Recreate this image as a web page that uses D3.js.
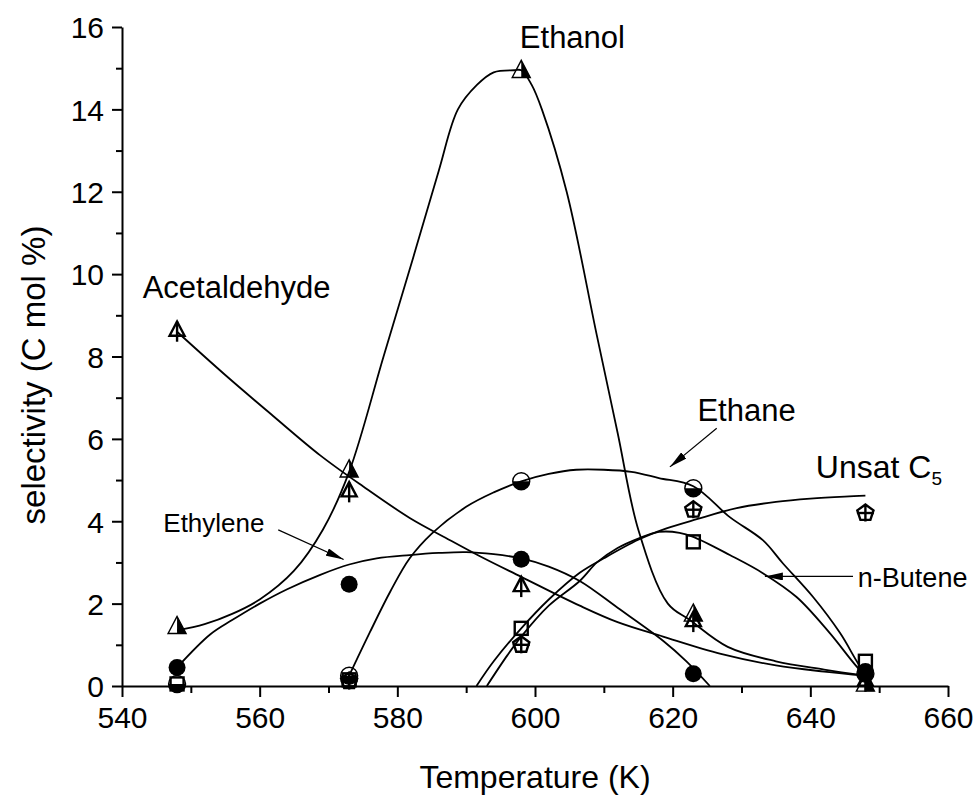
<!DOCTYPE html>
<html>
<head>
<meta charset="utf-8">
<script src="https://cdn.jsdelivr.net/npm/d3@7/dist/d3.min.js"></script>
<style>
  body { margin: 0; background: #fff; }
  svg text { font-family: "Liberation Sans", Arial, sans-serif; fill: #000; }
  .axis path, .axis line { stroke: #000; stroke-width: 2; }
  .fit { fill: none; stroke: #000; stroke-width: 1.8; }
</style>
</head>
<body>
<script>
// measured points
var temps = [548, 573, 598, 623, 648];
var ethanol_pts      = [1.45, 5.25, 14.95, 1.75, 0.05];
var acetaldehyde_pts = [8.65, 4.75, 2.45, 1.6, 0.15];
var ethylene_pts     = [0.45, 2.47, 3.08, 0.3, 0.35];
var ethane_pts       = [0.05, 0.25, 4.97, 4.8, 0.3];
var unsat_c5_pts     = [null, 0.12, 1.0, 4.28, 4.2];
var butene_pts       = [0.05, 0.15, 1.4, 3.5, 0.6];

// fitted curves
var ethanol_fit_t = [548, 552, 556, 560, 565, 569.2, 573, 578, 582.3, 586, 588.8, 591.6, 594, 597, 598, 599.5, 601, 604.6, 609, 612, 615, 619.3, 622.5, 628, 635, 642, 648];
var ethanol_fit_v = [1.35, 1.5, 1.75, 2.1, 2.8, 3.8, 5.2, 8.0, 10.4, 12.5, 14.0, 14.6, 14.9, 14.95, 14.95, 14.6, 14.0, 12.0, 8.5, 6.15, 3.8, 2.0, 1.6, 0.95, 0.6, 0.4, 0.25];

var acetaldehyde_fit_t = [548, 555, 562, 568.8, 575, 581.8, 587, 592, 598, 606.5, 612, 618.6, 627, 635, 642, 648];
var acetaldehyde_fit_v = [8.6, 7.55, 6.55, 5.6, 4.85, 4.08, 3.6, 3.15, 2.65, 1.95, 1.55, 1.2, 0.78, 0.5, 0.35, 0.25];

var ethylene_fit_t = [548, 552.8, 556, 560, 564, 568.8, 573, 577, 581.8, 586, 590, 594, 598, 602, 606.5, 612, 618.6, 622, 625.4];
var ethylene_fit_v = [0.45, 1.25, 1.6, 2.0, 2.35, 2.7, 2.95, 3.1, 3.18, 3.23, 3.25, 3.2, 3.1, 2.9, 2.55, 1.9, 1.1, 0.6, 0];

var ethane_fit_t = [573, 576, 579, 581.8, 585, 590, 594, 598, 602, 606, 610, 614, 618, 623, 628.3, 633.1, 636, 640.4, 644.3, 646.9, 648];
var ethane_fit_v = [0.25, 1.3, 2.3, 3.1, 3.7, 4.35, 4.7, 4.97, 5.15, 5.25, 5.25, 5.2, 5.05, 4.85, 4.1, 3.54, 2.98, 2.16, 1.29, 0.56, 0.3];

var unsat_c5_fit_t = [591.5, 594, 598, 602, 606.5, 610, 615, 619, 623.5, 629.3, 635, 640, 645, 648];
var unsat_c5_fit_v = [0, 0.6, 1.4, 2.1, 2.75, 3.1, 3.55, 3.82, 4.05, 4.32, 4.47, 4.55, 4.6, 4.62];

var butene_fit_t = [593, 596, 598, 602, 606.5, 609, 612, 615, 618, 621, 623, 628.3, 633.1, 638, 642.8, 647.2, 648];
var butene_fit_v = [0, 0.75, 1.2, 1.95, 2.55, 3.0, 3.35, 3.58, 3.74, 3.72, 3.62, 3.18, 2.74, 2.16, 1.29, 0.39, 0.3];

var x_major = [540, 560, 580, 600, 620, 640, 660];
var x_minor = [550, 570, 590, 610, 630, 650];
var y_major = [0, 2, 4, 6, 8, 10, 12, 14, 16];
var y_minor = [1, 3, 5, 7, 9, 11, 13, 15];

// annotations: [text, t, v, size]
var labels = [
  ['Ethanol', 597.8, 15.5, 31],
  ['Acetaldehyde', 543.0, 9.42, 31],
  ['Ethane', 623.6, 6.43, 31],
  ['Ethylene', 546.0, 3.74, 26],
  ['n-Butene', 646.9, 2.4, 27]
];
// arrows: [t0, v0, t1, v1]
var arrows = [
  [562.7, 3.79, 572.2, 3.07],
  [626.4, 6.26, 619.6, 5.32],
  [646.2, 2.66, 633.4, 2.66]
];

var W = 976, H = 800;

var svg = d3.select('body').append('svg')
  .attr('width', W)
  .attr('height', H);

var x = d3.scaleLinear().domain([540, 660]).range([122, 948]);
var y = d3.scaleLinear().domain([0, 16]).range([686, 27]);

// axes
var gx_minor = svg.append('g').attr('class', 'axis')
  .attr('transform', `translate(0,${y(0)})`)
  .call(d3.axisBottom(x).tickValues(x_minor).tickSize(7).tickFormat(''));
var gx = svg.append('g').attr('class', 'axis')
  .attr('transform', `translate(0,${y(0)})`)
  .call(d3.axisBottom(x).tickValues(x_major).tickSize(11).tickSizeOuter(0).tickPadding(10).tickFormat(d3.format('d')));
gx.selectAll('text').style('font-size', '30px');

var gy_minor = svg.append('g').attr('class', 'axis')
  .attr('transform', `translate(${x(540)},0)`)
  .call(d3.axisLeft(y).tickValues(y_minor).tickSize(6).tickFormat(''));
var gy = svg.append('g').attr('class', 'axis')
  .attr('transform', `translate(${x(540)},0)`)
  .call(d3.axisLeft(y).tickValues(y_major).tickSize(10).tickSizeOuter(0).tickPadding(8).tickFormat(d3.format('d')));
gy.selectAll('text').style('font-size', '30px').attr('dy', '0.36em');

[gx_minor, gy_minor].forEach((g) => g.select('.domain').remove());

svg.append('text')
  .attr('x', (x(540) + x(660)) / 2)
  .attr('y', 788)
  .attr('text-anchor', 'middle')
  .style('font-size', '32px')
  .text('Temperature (K)');

svg.append('text')
  .attr('transform', `translate(45,${y(7.55)}) rotate(-90)`)
  .attr('text-anchor', 'middle')
  .style('font-size', '33px')
  .text('selectivity (C mol %)');

// fitted curves
var line = d3.line()
  .x((d) => x(d[0]))
  .y((d) => y(d[1]))
  .curve(d3.curveCatmullRom.alpha(0.5));

var fits = [
  [ethanol_fit_t, ethanol_fit_v],
  [acetaldehyde_fit_t, acetaldehyde_fit_v],
  [ethylene_fit_t, ethylene_fit_v],
  [ethane_fit_t, ethane_fit_v],
  [unsat_c5_fit_t, unsat_c5_fit_v],
  [butene_fit_t, butene_fit_v]
];

svg.selectAll('path.fit')
  .data(fits).enter()
  .append('path')
  .attr('class', 'fit')
  .attr('d', (f) => line(f[0].map((t, i) => [t, f[1][i]])));

// markers
var sw = 2.4;

function half_triangle(g) {
  var s = 18;
  g.append('path')
    .attr('d', `M0,${-s*0.55}L${-s/2},${s*0.4}L${s/2},${s*0.4}Z`)
    .style('fill', 'none').style('stroke', '#000').style('stroke-width', 1.4);
  g.append('path')
    .attr('d', `M0,${-s*0.55}L${s/2},${s*0.4}L0,${s*0.4}Z`)
    .style('fill', '#000');
}

function cross_triangle(g) {
  var s = 15;
  g.append('path')
    .attr('d', `M0,${-s*0.55}L${-s/2},${s*0.4}L${s/2},${s*0.4}Z`)
    .style('fill', 'none').style('stroke', '#000').style('stroke-width', sw)
    .style('stroke-linejoin', 'miter');
  g.append('line')
    .attr('x1', 0).attr('y1', -s*0.55).attr('x2', 0).attr('y2', s*0.4 + 6)
    .style('stroke', '#000').style('stroke-width', sw);
}

function filled_circle(g) {
  g.append('circle').attr('r', 8.5).style('fill', '#000');
}

function half_circle(g) {
  var r = 8.5;
  g.append('circle').attr('r', r)
    .style('fill', 'none').style('stroke', '#000').style('stroke-width', 1.4);
  g.append('path')
    .attr('d', `M${-r},0A${r},${r} 0 0 0 ${r},0Z`)
    .style('fill', '#000');
}

function cross_pentagon(g) {
  var r = 8.5;
  var pts = d3.range(5).map((i) => {
    var a = -Math.PI / 2 + i * 2 * Math.PI / 5;
    return [r * Math.cos(a), r * Math.sin(a)];
  });
  g.append('path')
    .attr('d', 'M' + pts.join('L') + 'Z')
    .style('fill', 'none').style('stroke', '#000').style('stroke-width', sw);
  g.append('line').attr('x1', 0).attr('y1', -r).attr('x2', 0).attr('y2', r)
    .style('stroke', '#000').style('stroke-width', sw);
  g.append('line').attr('x1', -r).attr('y1', 0).attr('x2', r).attr('y2', 0)
    .style('stroke', '#000').style('stroke-width', sw);
}

function open_square(g) {
  var s = 13;
  g.append('rect')
    .attr('x', -s/2).attr('y', -s/2).attr('width', s).attr('height', s)
    .style('fill', 'none').style('stroke', '#000').style('stroke-width', sw);
}

var series = [
  [butene_pts, open_square],
  [unsat_c5_pts, cross_pentagon],
  [ethane_pts, half_circle],
  [ethylene_pts, filled_circle],
  [acetaldehyde_pts, cross_triangle],
  [ethanol_pts, half_triangle]
];

series.forEach((s) => {
  svg.append('g').selectAll('g.pt')
    .data(temps.map((t, i) => [t, s[0][i]]).filter((d) => d[1] !== null))
    .enter().append('g')
    .attr('class', 'pt')
    .attr('transform', (d) => `translate(${x(d[0])},${y(d[1])})`)
    .each(function() { s[1](d3.select(this)); });
});

// labels
svg.selectAll('text.lbl')
  .data(labels).enter()
  .append('text')
  .attr('class', 'lbl')
  .attr('x', (d) => x(d[1]))
  .attr('y', (d) => y(d[2]))
  .style('font-size', (d) => d[3] + 'px')
  .text((d) => d[0]);

var c5 = svg.append('text')
  .attr('x', x(640.8))
  .attr('y', y(5.05))
  .style('font-size', '32px');
c5.append('tspan').text('Unsat C');
c5.append('tspan').attr('dy', 7).style('font-size', '19px').text('5');

// arrows
svg.append('defs').append('marker')
  .attr('id', 'head')
  .attr('viewBox', '0 0 18 8')
  .attr('refX', 18).attr('refY', 4)
  .attr('markerWidth', 18).attr('markerHeight', 8)
  .attr('markerUnits', 'userSpaceOnUse')
  .attr('orient', 'auto')
  .append('path')
  .attr('d', 'M0,0L18,4L0,8Z')
  .style('fill', '#000');

svg.selectAll('line.arrow')
  .data(arrows).enter()
  .append('line')
  .attr('class', 'arrow')
  .attr('x1', (d) => x(d[0])).attr('y1', (d) => y(d[1]))
  .attr('x2', (d) => x(d[2])).attr('y2', (d) => y(d[3]))
  .style('stroke', '#000').style('stroke-width', 1.2)
  .attr('marker-end', 'url(#head)');
</script>
</body>
</html>
